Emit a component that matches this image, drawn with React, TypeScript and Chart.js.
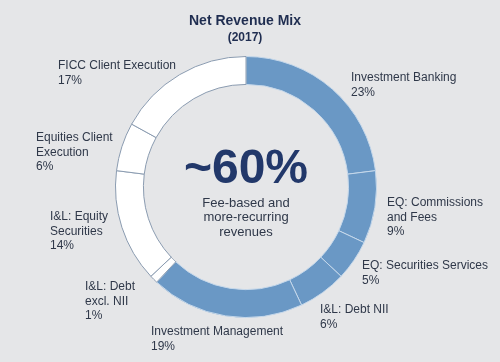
import React, { useEffect, useRef } from "react";
import { Chart, registerables } from "chart.js";

Chart.register(...registerables);

// ---- data ----
const categories = [
  "Investment Banking",
  "EQ: Commissions and Fees",
  "EQ: Securities Services",
  "I&L: Debt NII",
  "Investment Management",
  "I&L: Debt excl. NII",
  "I&L: Equity Securities",
  "Equities Client Execution",
  "FICC Client Execution",
];
const shares = [23, 9, 5, 6, 19, 1, 14, 6, 17];
const feeBased = [true, true, true, true, true, false, false, false, false];
const titleText = "Net Revenue Mix";
const subtitleText = "(2017)";
const centerHeadline = "~60%";
const centerCaption = ["Fee-based and", "more-recurring", "revenues"];

// ---- layout (text placement only) ----
const labelWrap: string[][] = [
  ["Investment Banking"],
  ["EQ: Commissions", "and Fees"],
  ["EQ: Securities Services"],
  ["I&L: Debt NII"],
  ["Investment Management"],
  ["I&L: Debt", "excl. NII"],
  ["I&L: Equity", "Securities"],
  ["Equities Client", "Execution"],
  ["FICC Client Execution"],
];
const labelPos: [number, number][] = [
  [351, 78],
  [387, 203],
  [362, 266],
  [320, 310],
  [151, 332],
  [85, 287],
  [50, 217],
  [36, 138],
  [58, 66],
];

const BG = "#e5e6e8";
const BLUE = "#6a98c5";
const FONT = "'Liberation Sans', Arial, Helvetica, sans-serif";
const TEXT = "#2f3849";
const NAVY = "#22386a";

const textPlugin = {
  id: "textOverlay",
  afterDraw(chart: any) {
    const ctx = chart.ctx;
    const meta = chart.getDatasetMeta(0);
    const arc = meta.data[0];
    const cx = arc.x;
    const cy = arc.y;
    ctx.save();
    ctx.textBaseline = "middle";
    // title
    ctx.textAlign = "center";
    ctx.fillStyle = "#1f2d50";
    ctx.font = `bold 14px ${FONT}`;
    ctx.fillText(titleText, 245, 21);
    ctx.font = `bold 12px ${FONT}`;
    ctx.fillText(subtitleText, 245, 38);
    // center
    ctx.fillStyle = NAVY;
    ctx.font = `bold 48px ${FONT}`;
    ctx.fillText(centerHeadline, cx, cy - 17);
    ctx.fillStyle = TEXT;
    ctx.font = `13px ${FONT}`;
    centerCaption.forEach((l, i) => ctx.fillText(l, cx, cy + 16 + i * 14.5));
    // labels
    ctx.textAlign = "left";
    ctx.font = `12px ${FONT}`;
    categories.forEach((_, i) => {
      const lines = [...labelWrap[i], `${shares[i]}%`];
      const [x, y] = labelPos[i];
      lines.forEach((l, j) => ctx.fillText(l, x, y + j * 14.5));
    });
    ctx.restore();
  },
};

export default function App() {
  const ref = useRef<HTMLCanvasElement | null>(null);
  useEffect(() => {
    document.body.style.margin = "0";
    document.body.style.background = BG;
    if (!ref.current) return;
    const chart = new Chart(ref.current, {
      type: "doughnut",
      data: {
        labels: categories,
        datasets: [
          {
            data: shares,
            backgroundColor: feeBased.map((f) => (f ? BLUE : "#ffffff")),
            borderColor: feeBased.map((f) => (f ? "#c4d7ea" : "#8a9bb0")),
            borderWidth: 1,
          },
        ],
      },
      options: {
        responsive: false,
        animation: false,
        cutout: "78.6%",
        layout: { padding: { top: 56, bottom: 44, left: 115, right: 123 } },
        plugins: {
          legend: { display: false },
          tooltip: { enabled: false },
          title: { display: false },
        },
      },
      plugins: [textPlugin],
    });
    return () => chart.destroy();
  }, []);
  return (
    <div style={{ position: "fixed", left: 0, top: 0, width: 500, height: 362, background: BG }}>
      <canvas ref={ref} width={500} height={362} style={{ display: "block" }} />
    </div>
  );
}
